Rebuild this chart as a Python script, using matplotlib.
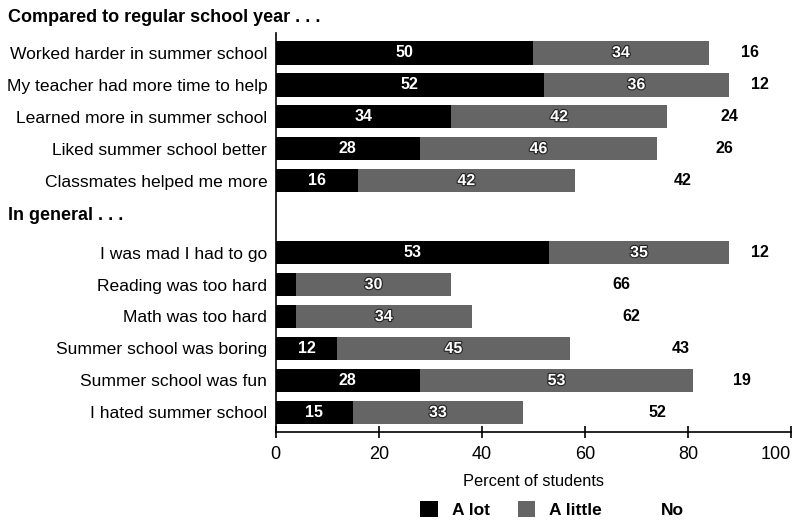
import matplotlib
matplotlib.use('Agg')
import matplotlib.pyplot as plt
import matplotlib.patheffects as pe
from matplotlib.patches import Patch
from matplotlib.transforms import blended_transform_factory

plt.rcParams['font.family'] = ['Liberation Sans', 'DejaVu Sans']

# Data
compared_labels = ['Worked harder in summer school', 'My teacher had more time to help',
                   'Learned more in summer school', 'Liked summer school better',
                   'Classmates helped me more']
compared_lot = [50, 52, 34, 28, 16]
compared_little = [34, 36, 42, 46, 42]
compared_no = [16, 12, 24, 26, 42]

general_labels = ['I was mad I had to go', 'Reading was too hard', 'Math was too hard',
                  'Summer school was boring', 'Summer school was fun', 'I hated summer school']
general_lot = [53, 4, 4, 12, 28, 15]
general_little = [35, 30, 34, 45, 53, 33]
general_no = [12, 66, 62, 43, 19, 52]

headers = ['Compared to regular school year . . .', 'In general . . .']
legend_labels = ['A lot', 'A little', 'No']
x_ticks = [0, 20, 40, 60, 80, 100]

LOT_COLOR = 'black'
LITTLE_COLOR = '#656565'


def main():
    labels = compared_labels + general_labels
    lot = compared_lot + general_lot
    little = compared_little + general_little
    no = compared_no + general_no
    gap = 1.25
    ys = list(range(len(compared_labels))) + \
        [len(compared_labels) + gap + i for i in range(len(general_labels))]

    fig = plt.figure(figsize=(7.92, 5.22), dpi=100)
    ax = fig.add_axes([0.348, 0.172, 0.651, 0.765])

    ax.barh(ys, lot, height=0.74, color=LOT_COLOR)
    ax.barh(ys, little, left=lot, height=0.74, color=LITTLE_COLOR)

    outline = [pe.withStroke(linewidth=1.6, foreground='#222222')]
    for y, a, b, c in zip(ys, lot, little, no):
        if a >= 10:
            ax.text(a / 2, y, str(a), color='white', ha='center', va='center',
                    fontsize=11.5, fontweight='bold')
        ax.text(a + b / 2, y, str(b), color='white', ha='center', va='center',
                fontsize=11.5, fontweight='bold', path_effects=outline)
        ax.text(a + b + c / 2, y, str(c), color='black', ha='center', va='center',
                fontsize=11.5, fontweight='bold')

    ax.set_xlim(0, 100)
    ax.set_ylim(ys[-1] + 0.62, -0.62)
    ax.set_yticks(ys)
    ax.set_yticklabels(labels, fontsize=12.6)
    ax.tick_params(axis='y', length=0, pad=6)
    ax.set_xticks(x_ticks)
    ax.set_xticklabels([str(t) for t in x_ticks], fontsize=13)
    ax.get_xticklabels()[-1].set_ha('right')
    ax.tick_params(axis='x', direction='inout', length=8, width=1.2, pad=6)
    ax.set_xlabel('Percent of students', fontsize=11.8, labelpad=8)
    for side in ['top', 'right']:
        ax.spines[side].set_visible(False)
    ax.spines['left'].set_linewidth(1.2)
    ax.spines['bottom'].set_linewidth(1.2)

    # Group headers
    trans = blended_transform_factory(fig.transFigure, ax.transData)
    ax.text(0.01, -1.1, headers[0], transform=trans, ha='left', va='center',
            fontsize=13, fontweight='bold')
    ax.text(0.01, len(compared_labels) + 0.1, headers[1], transform=trans,
            ha='left', va='center', fontsize=13, fontweight='bold')

    handles = [Patch(facecolor=LOT_COLOR), Patch(facecolor=LITTLE_COLOR),
               Patch(facecolor='white', edgecolor='none')]
    fig.legend(handles, legend_labels, loc='lower center', bbox_to_anchor=(0.697, -0.022),
               ncol=3, frameon=False, handlelength=1.0, handleheight=1.0,
               columnspacing=1.6, prop={'weight': 'bold', 'size': 12.5})

    fig.savefig('out.png', dpi=100)


if __name__ == '__main__':
    main()
